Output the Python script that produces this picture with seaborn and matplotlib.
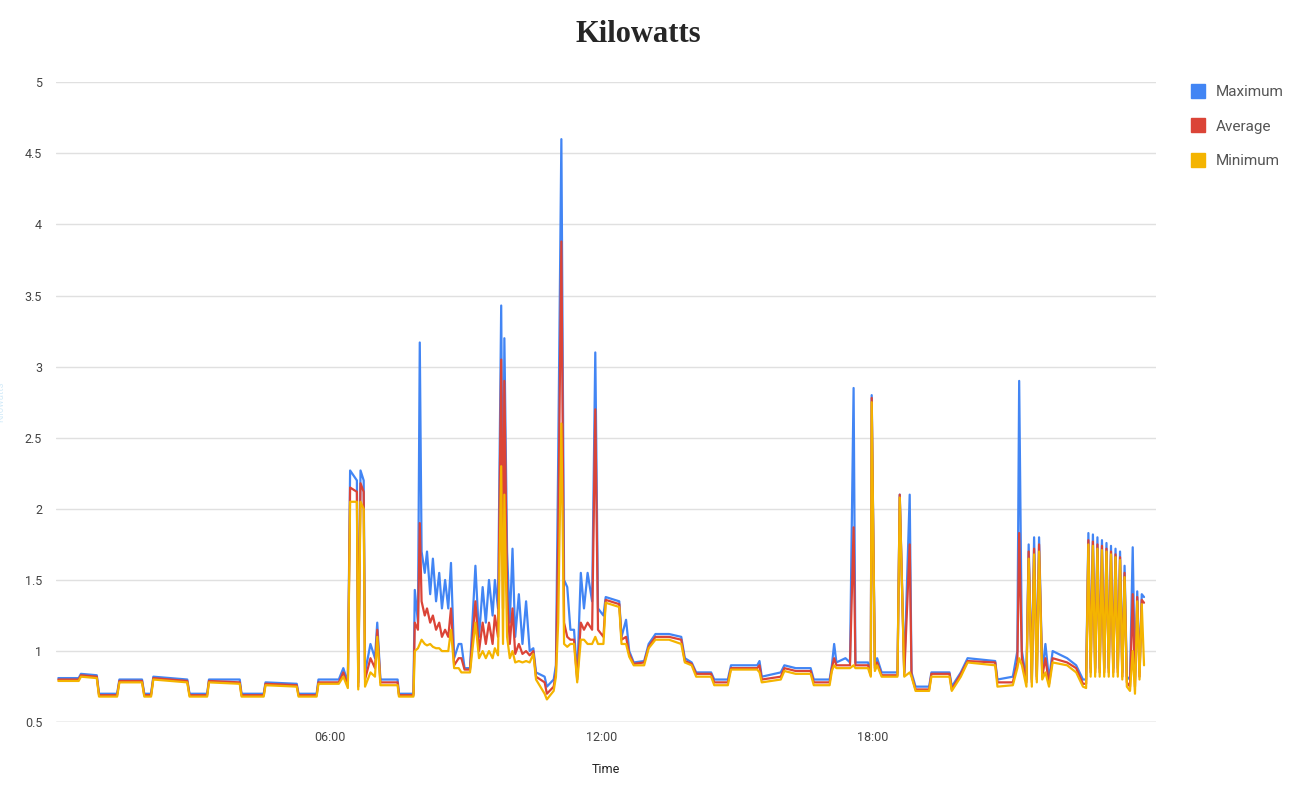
import pandas as pd
import matplotlib.pyplot as plt
import seaborn as sns
from matplotlib.lines import Line2D

sns.set_style('white')
plt.rcParams['font.family'] = ['Roboto', 'DejaVu Sans']

hours = [0.00, 0.45, 0.50, 0.85, 0.90, 1.30, 1.35, 1.85, 1.90, 2.05, 2.10, 2.85, 2.90, 3.29, 3.33,
         4.01, 4.05, 4.54, 4.58, 5.27, 5.31, 5.71, 5.75, 6.20, 6.30, 6.40, 6.45, 6.60, 6.63, 6.68,
         6.75, 6.78, 6.90, 7.00, 7.05, 7.12, 7.50, 7.53, 7.85, 7.88, 7.95, 7.99, 8.03, 8.10, 8.15,
         8.22, 8.28, 8.35, 8.42, 8.48, 8.55, 8.62, 8.68, 8.75, 8.85, 8.91, 8.98, 9.10, 9.22, 9.30,
         9.38, 9.45, 9.52, 9.60, 9.65, 9.72, 9.79, 9.83, 9.86, 9.92, 9.98, 10.04, 10.10, 10.18, 10.26,
         10.34, 10.42, 10.50, 10.56, 10.75, 10.80, 10.95, 11.00, 11.05, 11.12, 11.18, 11.25, 11.32, 11.40, 11.47,
         11.55, 11.62, 11.70, 11.80, 11.87, 11.93, 12.05, 12.10, 12.40, 12.45, 12.55, 12.62, 12.72, 12.95, 13.05,
         13.20, 13.50, 13.77, 13.85, 14.00, 14.10, 14.43, 14.50, 14.80, 14.87, 15.45, 15.50, 15.55, 15.97, 16.05,
         16.30, 16.63, 16.70, 17.05, 17.10, 17.15, 17.20, 17.40, 17.50, 17.58, 17.62, 17.90, 17.96, 17.98, 18.05,
         18.10, 18.20, 18.55, 18.60, 18.70, 18.82, 18.86, 18.95, 19.25, 19.30, 19.70, 19.75, 19.95, 20.10, 20.71,
         20.76, 21.10, 21.20, 21.24, 21.30, 21.40, 21.45, 21.52, 21.57, 21.63, 21.68, 21.75, 21.82, 21.90, 21.98,
         22.30, 22.50, 22.65, 22.72, 22.77, 22.82, 22.87, 22.92, 22.97, 23.02, 23.07, 23.12, 23.17, 23.22, 23.27,
         23.32, 23.37, 23.42, 23.47, 23.52, 23.57, 23.62, 23.69, 23.75, 23.80, 23.85, 23.90, 23.95, 24.00]

kw_max = [.81, .81, .84, .83, .70, .70, .80, .80, .70, .70, .82, .80, .70, .70, .80,
          .80, .70, .70, .78, .77, .70, .70, .80, .80, .88, .78, 2.27, 2.20, .78, 2.27,
          2.20, .85, 1.05, .95, 1.20, .80, .80, .70, .70, 1.43, 1.20, 3.17, 1.70, 1.55, 1.70,
          1.40, 1.65, 1.35, 1.55, 1.30, 1.50, 1.30, 1.62, .95, 1.05, 1.05, .88, .88, 1.60, 1.10,
          1.45, 1.20, 1.50, 1.25, 1.50, 1.30, 3.43, 1.50, 3.20, 1.70, 1.20, 1.72, 1.10, 1.40, 1.05,
          1.35, 1.00, 1.02, .85, .82, .75, .80, .90, 2.35, 4.60, 1.50, 1.45, 1.15, 1.15, .82,
          1.55, 1.30, 1.55, 1.35, 3.10, 1.30, 1.25, 1.38, 1.35, 1.10, 1.22, 1.00, .92, .93, 1.05,
          1.12, 1.12, 1.10, .95, .92, .85, .85, .80, .80, .90, .90, .93, .82, .85, .90,
          .88, .88, .80, .80, .90, 1.05, .92, .95, .92, 2.85, .92, .92, .85, 2.80, .90,
          .95, .85, .85, 2.10, .85, 2.10, .85, .75, .75, .85, .85, .75, .85, .95, .93,
          .80, .82, 1.00, 2.90, 1.00, .80, 1.75, .80, 1.80, .82, 1.80, .85, 1.05, .80, 1.00,
          .95, .90, .80, .80, 1.83, .88, 1.82, .88, 1.80, .88, 1.78, .88, 1.76, .88, 1.74,
          .88, 1.72, .88, 1.70, .85, 1.60, .82, .80, 1.73, .80, 1.42, .85, 1.40, 1.38]

kw_avg = [.80, .80, .83, .82, .69, .69, .79, .79, .69, .69, .81, .79, .69, .69, .79,
          .78, .69, .69, .77, .76, .69, .69, .78, .78, .85, .76, 2.15, 2.12, .75, 2.18,
          2.12, .80, .95, .88, 1.15, .78, .78, .69, .69, 1.20, 1.15, 1.90, 1.35, 1.25, 1.30,
          1.20, 1.25, 1.15, 1.20, 1.10, 1.15, 1.10, 1.30, .90, .95, .95, .87, .87, 1.35, 1.00,
          1.20, 1.05, 1.20, 1.05, 1.25, 1.10, 3.05, 1.30, 2.90, 1.40, 1.05, 1.30, .98, 1.05, .98,
          1.00, .97, 1.00, .82, .78, .70, .75, .85, 1.80, 3.88, 1.20, 1.10, 1.08, 1.08, .80,
          1.20, 1.15, 1.20, 1.15, 2.70, 1.15, 1.10, 1.36, 1.33, 1.08, 1.10, .98, .91, .92, 1.03,
          1.10, 1.10, 1.08, .93, .91, .84, .84, .78, .78, .88, .88, .90, .80, .82, .88,
          .86, .86, .78, .78, .88, .95, .90, .90, .90, 1.87, .90, .90, .83, 2.78, .88,
          .92, .83, .83, 2.10, .83, 1.75, .83, .73, .73, .84, .84, .73, .84, .93, .92,
          .78, .78, .92, 1.83, .95, .78, 1.70, .78, 1.72, .80, 1.75, .82, .95, .77, .95,
          .92, .88, .77, .77, 1.78, .85, 1.77, .85, 1.75, .85, 1.74, .85, 1.72, .85, 1.70,
          .85, 1.68, .85, 1.66, .82, 1.55, .78, .75, 1.40, .75, 1.38, .82, 1.36, 1.34]

kw_min = [.79, .79, .82, .81, .68, .68, .78, .78, .68, .68, .80, .78, .68, .68, .78,
          .77, .68, .68, .76, .75, .68, .68, .77, .77, .82, .74, 2.05, 2.05, .73, 2.05,
          2.00, .75, .85, .82, 1.10, .76, .76, .68, .68, 1.00, 1.02, 1.05, 1.08, 1.05, 1.04,
          1.05, 1.03, 1.02, 1.02, 1.00, 1.00, 1.00, 1.15, .88, .88, .85, .85, .85, 1.20, .95,
          1.00, .95, 1.00, .95, 1.02, .97, 2.30, 1.05, 2.10, 1.10, .95, 1.00, .92, .93, .92,
          .93, .92, .98, .80, .70, .66, .72, .82, 1.20, 2.60, 1.05, 1.03, 1.05, 1.05, .78,
          1.08, 1.08, 1.05, 1.05, 1.10, 1.05, 1.05, 1.34, 1.31, 1.05, 1.05, .96, .90, .90, 1.02,
          1.08, 1.08, 1.05, .92, .90, .82, .82, .76, .76, .87, .87, .85, .78, .80, .86,
          .84, .84, .76, .76, .86, .90, .88, .88, .88, .90, .88, .88, .82, 2.75, .86,
          .90, .82, .82, 2.08, .82, .85, .82, .72, .72, .82, .82, .72, .82, .92, .90,
          .75, .76, .88, .95, .90, .75, 1.65, .75, 1.68, .78, 1.70, .80, .85, .75, .92,
          .90, .85, .75, .74, 1.75, .82, 1.74, .82, 1.72, .82, 1.71, .82, 1.70, .82, 1.68,
          .82, 1.66, .82, 1.64, .80, 1.52, .75, .72, 1.00, .70, 1.35, .80, 1.33, .90]

df = pd.DataFrame({'hours': hours, 'Maximum': kw_max, 'Average': kw_avg, 'Minimum': kw_min})
colors = {'Maximum': '#4285F4', 'Average': '#DB4437', 'Minimum': '#F4B400'}

fig = plt.figure(figsize=(13.16, 7.91), dpi=100)
ax = fig.add_axes([0.0426, 0.087, 0.836, 0.809])
for name in ['Maximum', 'Average', 'Minimum']:
    sns.lineplot(data=df, x='hours', y=name, color=colors[name], linewidth=1.6, ax=ax)

ax.set_xlim(-0.05, 24.27)
ax.set_ylim(0.5, 5)
ax.set_yticks([0.5, 1, 1.5, 2, 2.5, 3, 3.5, 4, 4.5, 5])
ax.set_yticklabels(['0.5', '1', '1.5', '2', '2.5', '3', '3.5', '4', '4.5', '5'])
ax.set_xticks([6, 12, 18])
ax.set_xticklabels(['06:00', '12:00', '18:00'])
ax.tick_params(axis='y', length=0, labelsize=9, colors='#444444', pad=10)
ax.tick_params(axis='x', length=0, labelsize=9, colors='#444444', pad=6)
ax.grid(axis='y', color='#e0e0e0', linewidth=1)
sns.despine(left=True, bottom=True)
ax.axhline(0.5, color='#cccccc', linewidth=1)
ax.set_xlabel('Time', fontsize=9, color='#222222', labelpad=14)
ax.set_ylabel('Kilowatts', fontsize=7, color='#d6ecf9', labelpad=14)

fig.suptitle('Kilowatts', family='Liberation Serif', fontweight='bold', fontsize=22, x=0.485, y=0.975)

handles = [Line2D([], [], marker='s', linestyle='', markersize=10, color=colors[n]) for n in colors]
leg = ax.legend(handles, list(colors), loc='upper left', bbox_to_anchor=(1.012, 1.017), frameon=False,
                fontsize=11, labelspacing=1.35, handletextpad=0.15)
for t in leg.get_texts():
    t.set_color('#555555')

fig.savefig('out.png', dpi=100)
